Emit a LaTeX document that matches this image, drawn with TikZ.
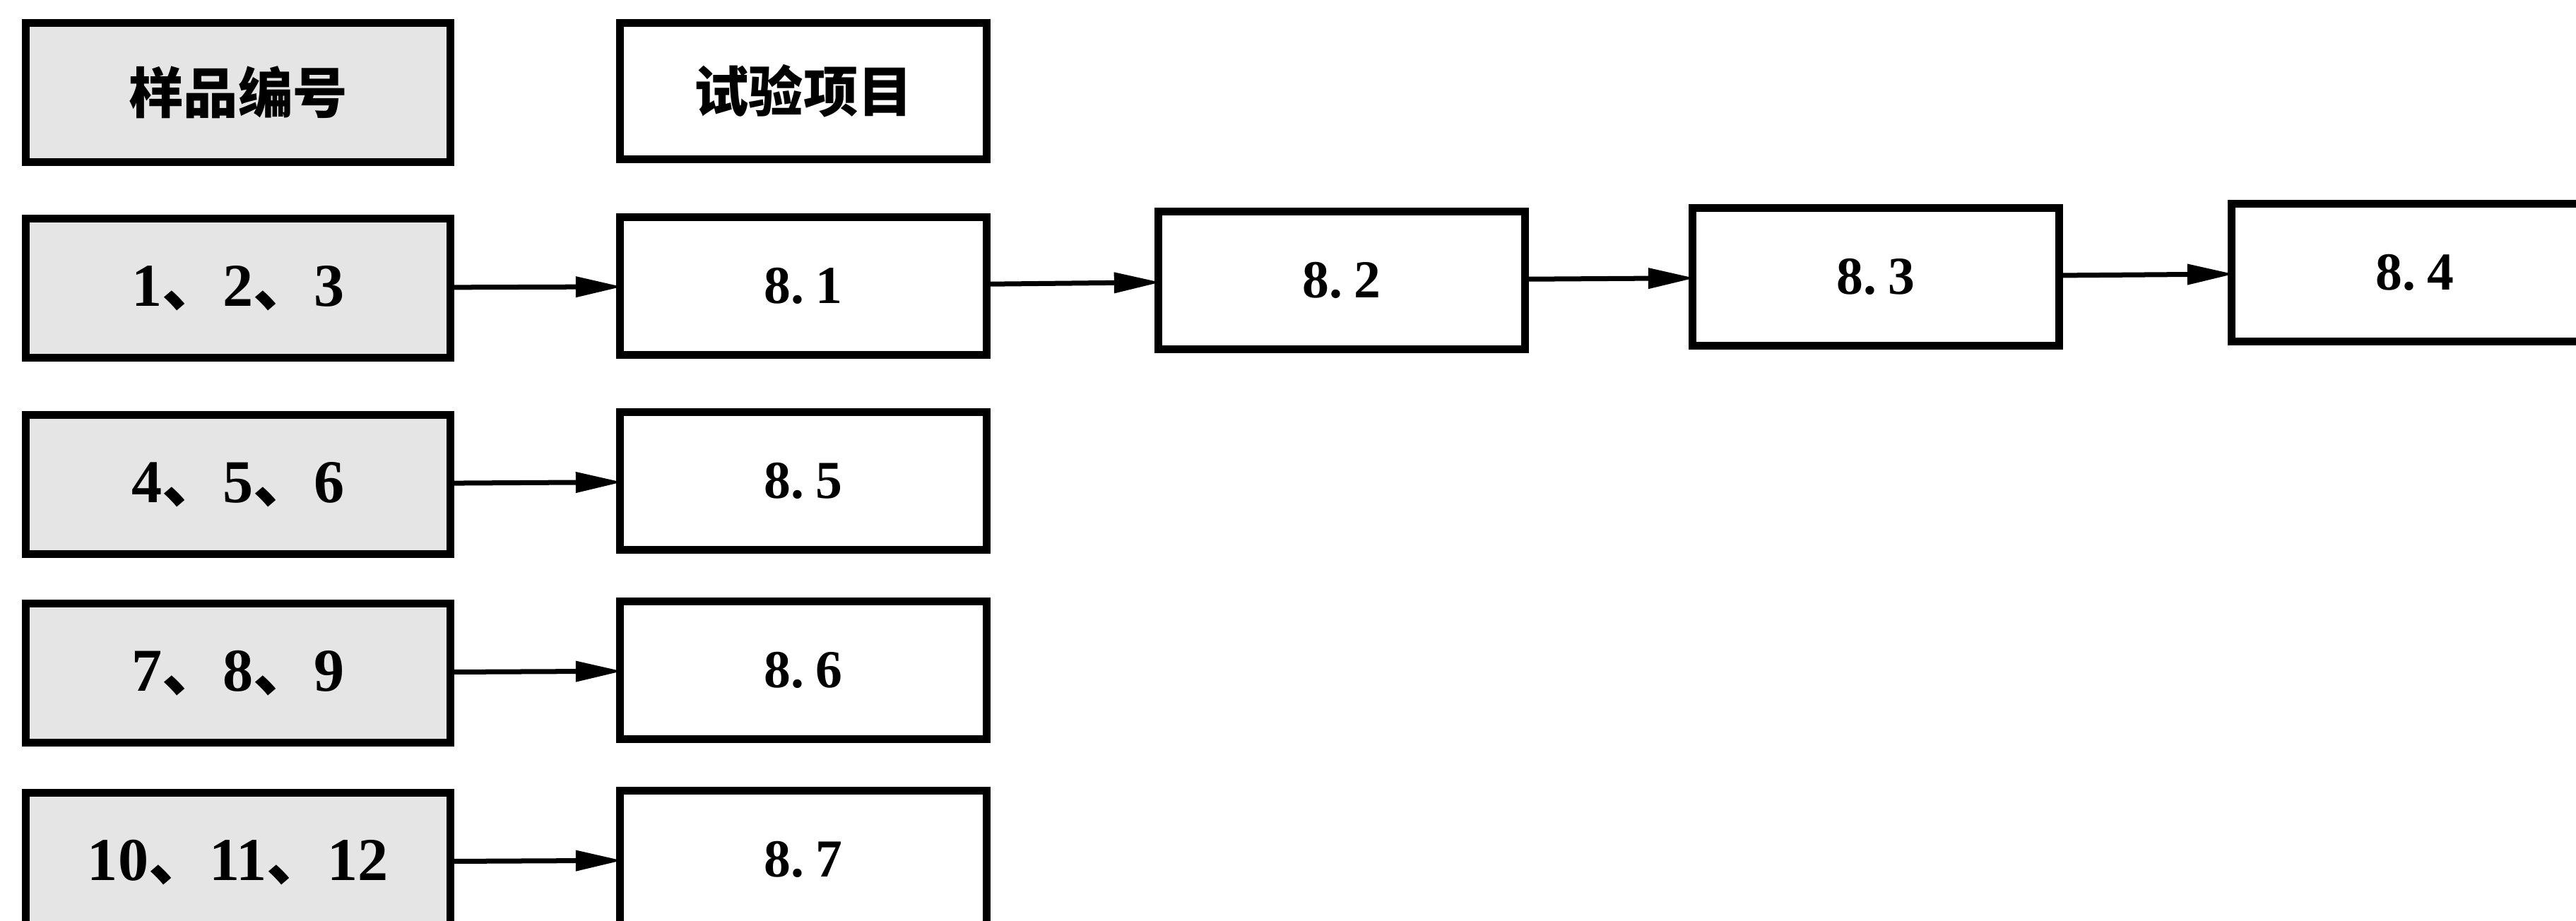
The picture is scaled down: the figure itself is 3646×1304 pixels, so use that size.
\documentclass[tikz,border=0pt]{standalone}
\usepackage{fontspec}
\setmainfont{Liberation Serif}
\newfontfamily\cjk{Noto Sans CJK SC}
\usetikzlibrary{arrows.meta}
\newcommand{\dn}{{\cjk\bfseries 、}}
\tikzset{
  box/.style={draw=black, line width=0.11cm, rectangle, inner sep=0pt, outer sep=0pt,
    minimum width=5.18cm, minimum height=1.94cm, font=\fontsize{21.5}{24}\selectfont\bfseries},
  sbox/.style={box, fill=black!10, minimum width=6.0cm, minimum height=1.96cm,
    font=\fontsize{24.5}{28}\selectfont\bfseries},
  hbox/.style={box, font=\fontsize{22}{26}\selectfont\cjk\bfseries},
  conn/.style={line width=0.07cm, -{Triangle[length=0.66cm,width=0.28cm]}, shorten >=-0.03cm},
}
\begin{document}
\begin{tikzpicture}[x=0.01cm,y=-0.01cm]
\useasboundingbox (0,0) rectangle (3646,1304);
\clip (0,0) rectangle (3646,1304);
\fill[white] (0,0) rectangle (3646,1304);
% header
\node[sbox, font=\fontsize{22}{26}\selectfont\cjk\bfseries] (hl) at (337,131) {样品编号};
\node[hbox, minimum height=1.92cm] (hr) at (1137,129) {试验项目};
% sample boxes
\node[sbox] (s1) at (337,408) {1\dn 2\dn 3};
\node[sbox] (s2) at (337,686) {4\dn 5\dn 6};
\node[sbox] (s3) at (337,953) {7\dn 8\dn 9};
\node[sbox] (s4) at (337,1221) {10\dn 11\dn 12};
% test boxes
\node[box] (t81) at (1137,405) {8.\hspace{0.22em}1};
\node[box] (t82) at (1899,397) {8.\hspace{0.22em}2};
\node[box] (t83) at (2655,392) {8.\hspace{0.22em}3};
\node[box] (t84) at (3418,386) {8.\hspace{0.22em}4};
\node[box] (t85) at (1137,681) {8.\hspace{0.22em}5};
\node[box] (t86) at (1137,949) {8.\hspace{0.22em}6};
\node[box] (t87) at (1137,1217) {8.\hspace{0.22em}7};
% connectors
\draw[conn] (s1) -- (t81);
\draw[conn] (t81) -- (t82);
\draw[conn] (t82) -- (t83);
\draw[conn] (t83) -- (t84);
\draw[conn] (s2) -- (t85);
\draw[conn] (s3) -- (t86);
\draw[conn] (s4) -- (t87);
\end{tikzpicture}
\end{document}
